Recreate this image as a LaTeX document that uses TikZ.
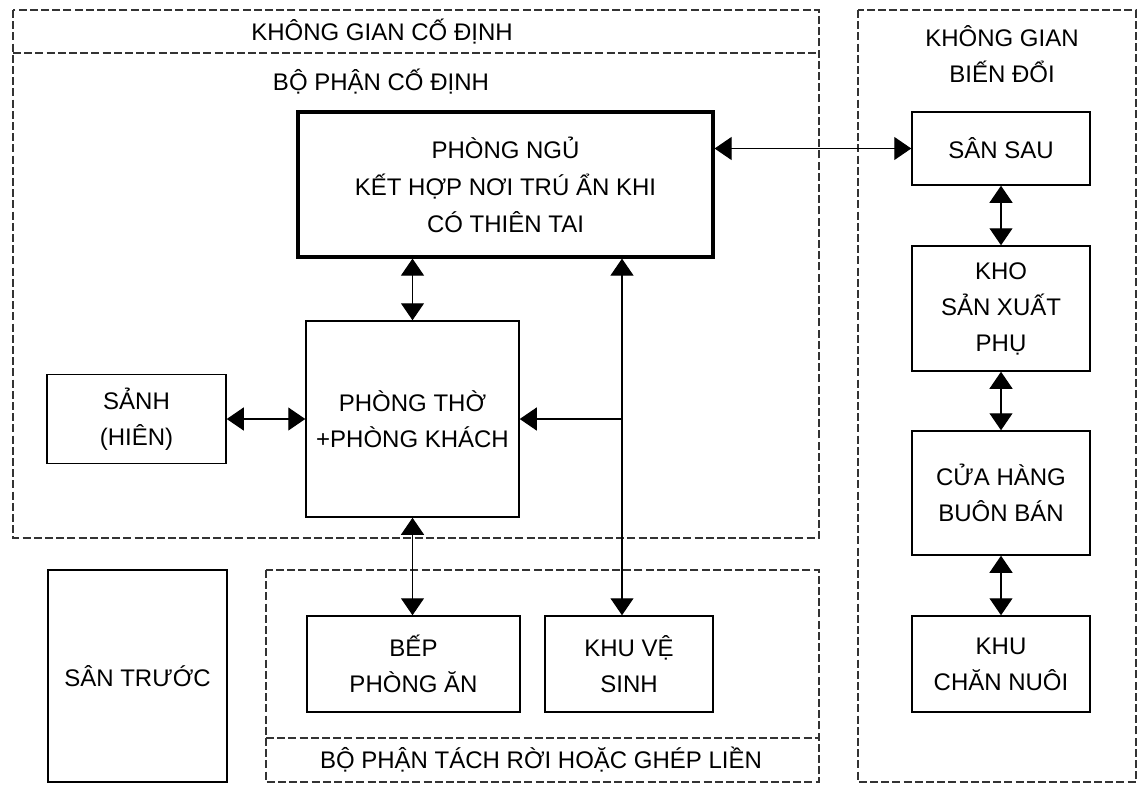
\documentclass[tikz,border=0pt]{standalone}
\usepackage{fontspec}
\setmainfont{Liberation Sans}
\usetikzlibrary{arrows.meta}

\begin{document}
\begin{tikzpicture}
            [x=0.5pt, y=-0.5pt, >={Triangle[length=8.5pt,width=11.5pt]}, semithick,
             font=\fontsize{12}{18}\selectfont,
             room/.style={shape=rectangle, draw=black, line width=0.75pt, align=center, inner sep=0pt},
             frame/.style={draw=black!80, line width=0.6pt, dash pattern=on 4pt off 1.6pt},
             link/.style={line width=0.55pt}]
            \useasboundingbox (0, 0) rectangle (1145, 787);

            % khung net dut
            \draw[frame] (13, 10) rectangle (819, 538);
            \draw[frame] (13, 53) -- (819, 53);
            \draw[frame] (266, 570) rectangle (819, 782);
            \draw[frame] (266, 738) -- (819, 738);
            \draw[frame] (858, 10) rectangle (1136, 782);

            \node (kgcodinh) at (382, 32) {KHÔNG GIAN CỐ ĐỊNH};
            \node (bpcodinh) at (381, 82) {BỘ PHẬN CỐ ĐỊNH};
            \node (bptachroi) at (541, 760) {BỘ PHẬN TÁCH RỜI HOẶC GHÉP LIỀN};
            \node[align=center] (kgbiendoi) at (1002, 54) {KHÔNG GIAN\\BIẾN ĐỔI};

            % cac phong
            \node[room, line width=1.6pt, minimum width=207.5pt, minimum height=72.5pt, font=\fontsize{12}{18.5}\selectfont] (phongngu) at (505.5, 184.5) {PHÒNG NGỦ\\KẾT HỢP NƠI TRÚ ẨN KHI\\CÓ THIÊN TAI};
            \node[room, minimum width=106.5pt, minimum height=98pt] (tho) at (412.5, 419) {PHÒNG THỜ\\+PHÒNG KHÁCH};
            \node[room, minimum width=89.5pt, minimum height=44.5pt] (sanh) at (136.5, 419) {SẢNH\\(HIÊN)};
            \node[room, minimum width=89.5pt, minimum height=106pt] (santruoc) at (137.5, 676) {SÂN TRƯỚC};
            \node[room, minimum width=106.5pt, minimum height=48pt] (bep) at (413.5, 664) {BẾP\\PHÒNG ĂN};
            \node[room, minimum width=84pt, minimum height=48pt] (vesinh) at (629, 664) {KHU VỆ\\SINH};

            \node[room, minimum width=89pt, minimum height=36.5pt] (sansau) at (1001, 148.5) {SÂN SAU};
            \node[room, minimum width=89pt, minimum height=62.5pt] (kho) at (1001, 308.5) {KHO\\SẢN XUẤT\\PHỤ};
            \node[room, minimum width=89pt, minimum height=62pt] (cuahang) at (1001, 493) {CỬA HÀNG\\BUÔN BÁN};
            \node[room, minimum width=89pt, minimum height=48pt] (channuoi) at (1001, 664) {KHU\\CHĂN NUÔI};

            \coordinate (nga) at (622, 419);

            % lien ket
            \path [<->, link] (phongngu.east |- sansau.west) edge (sansau.west);
            \path [<->, link] (phongngu.south -| tho.north) edge (tho.north);
            \path [<->, link] (phongngu.south -| nga) edge (vesinh.north -| nga);
            \path [->, link] (nga) edge (tho.east);
            \path [<->, link] (sanh) edge (tho);
            \path [<->, link] (tho.south) edge (tho.south |- bep.north);
            \path [<->, link] (sansau) edge (kho);
            \path [<->, link] (kho) edge (cuahang);
            \path [<->, link] (cuahang) edge (channuoi);
        \end{tikzpicture}
\end{document}
